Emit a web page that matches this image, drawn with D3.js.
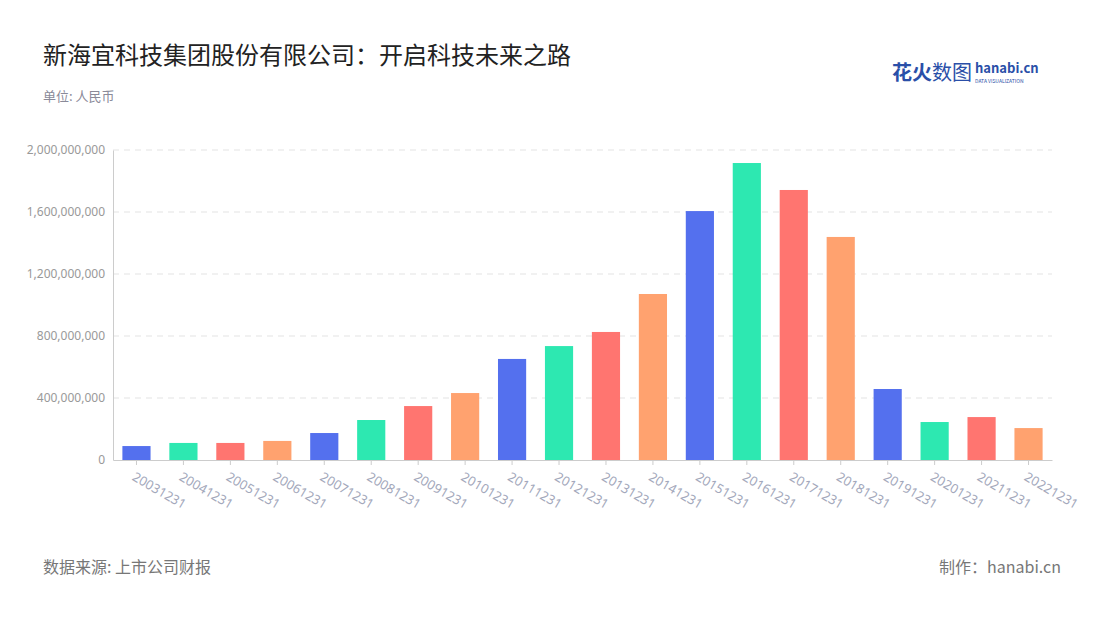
<!DOCTYPE html>
<html><head><meta charset="utf-8">
<script src="https://cdn.jsdelivr.net/npm/d3@7"></script>
<style>body{margin:0;background:#fff;font-family:"Noto Sans CJK SC","Noto Sans",sans-serif}</style>
</head><body><svg id="c" width="1100" height="620"></svg>
<script>
const categories=["20031231","20041231","20051231","20061231","20071231","20081231","20091231","20101231","20111231","20121231","20131231","20141231","20151231","20161231","20171231","20181231","20191231","20201231","20211231","20221231"];
const values=[90e6,110e6,110e6,123e6,174e6,258e6,348e6,432e6,652e6,735e6,826e6,1071e6,1606e6,1916e6,1742e6,1439e6,458e6,245e6,277e6,206e6];
const yTicks=[0,400e6,800e6,1200e6,1600e6,2000e6];
const palette=["#5470ee","#2de8b1","#ff7570","#ffa26f"];
const svg=d3.select("#c");
const x=d3.scaleBand().domain(categories).range([113,1052]).paddingInner(0.4).paddingOuter(0.2);
const y=d3.scaleLinear().domain([0,2000e6]).range([460,150]);
svg.append("text").attr("x",43).attr("y",64).attr("font-size",24).attr("fill","#222").text("新海宜科技集团股份有限公司：开启科技未来之路");
svg.append("text").attr("x",43).attr("y",101).attr("font-size",13).attr("fill","#8a8a99").text("单位: 人民币");
const lg=svg.append("g");
lg.append("text").attr("x",892).attr("y",80).attr("font-size",20).attr("font-weight",700).attr("fill","#2a4fa8").text("花火");
lg.append("text").attr("x",932).attr("y",80).attr("font-size",20).attr("fill","#2a4fa8").text("数图");
lg.append("text").attr("x",975).attr("y",73).attr("font-size",13).attr("font-weight",700).attr("fill","#2a4fa8").text("hanabi.cn");
lg.append("text").attr("x",975).attr("y",83).attr("font-size",5).attr("fill","#2a4fa8").text("DATA VISUALIZATION");
svg.append("g").selectAll("line").data(yTicks.slice(1)).join("line")
 .attr("x1",113).attr("x2",1052).attr("y1",d=>y(d)).attr("y2",d=>y(d))
 .attr("stroke","#e3e3e3").attr("stroke-dasharray","6,5");
const ya=svg.append("g").attr("transform","translate(113,0)").call(d3.axisLeft(y).tickValues(yTicks).tickFormat(d3.format(",")).tickSize(0).tickPadding(8));
ya.select(".domain").attr("stroke","#ccc");
ya.selectAll("text").attr("fill","#999").attr("font-size",12).attr("font-family","Noto Sans");
svg.append("g").selectAll("rect").data(values).join("rect")
 .attr("x",(d,i)=>x(categories[i])).attr("width",x.bandwidth())
 .attr("y",d=>y(d)).attr("height",d=>460-y(d)).attr("fill",(d,i)=>palette[i%4]);
const xa=svg.append("g").attr("transform","translate(0,460)").call(d3.axisBottom(x).tickSize(5).tickSizeOuter(0));
xa.select(".domain").attr("stroke","#ccc");
xa.selectAll("line").attr("stroke","#ccc");
xa.selectAll("text").attr("fill","#a3a8bb").attr("font-size",13).attr("font-family","Noto Sans")
 .attr("text-anchor","start").attr("transform","translate(2,7) rotate(30)").attr("dy","0.5em").attr("dx","0");
svg.append("text").attr("x",43).attr("y",573).attr("font-size",16).attr("fill","#777").text("数据来源: 上市公司财报");
svg.append("text").attr("x",1061).attr("y",573).attr("text-anchor","end").attr("font-size",16).attr("fill","#777").text("制作：hanabi.cn");
</script></body></html>
